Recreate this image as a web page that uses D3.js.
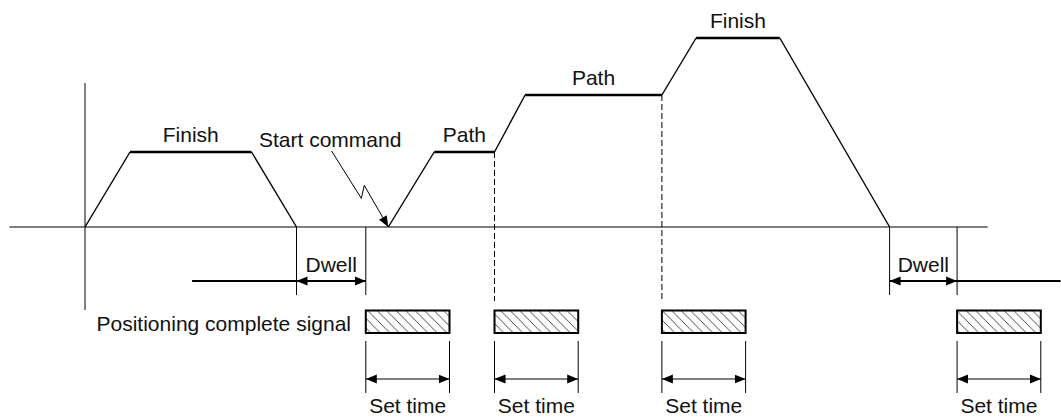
<!DOCTYPE html>
<html>
<head>
<meta charset="utf-8">
<script src="https://cdn.jsdelivr.net/npm/d3@7"></script>
<style>
  body { margin: 0; background: #fff; }
  text { font-family: "Liberation Sans", Arial, sans-serif; font-size: 21px; fill: #111; }
</style>
</head>
<body>
<svg id="chart"></svg>
<script>
// time (x) and speed (y) values
const profile1 = [[0, 0], [5, 3.75], [18.5, 3.75], [23.5, 0]];
const profile2 = [[33.7, 0], [38.8, 3.75], [45.5, 3.75], [48.9, 6.6], [64.1, 6.6],
                  [67.9, 9.45], [77.2, 9.45], [89.4, 0]];
const flatLabels = ["Finish", "Path", "Path", "Finish"];
const dwells = [[23.5, 31.2], [89.4, 96.9]];
const signalLine = [[11.9, 23.5], [96.9, 108.4]];
const signalStarts = [31.2, 45.5, 64.1, 96.9];
const setTime = 9.3;
const pathSwitches = [45.5, 64.1];
const startCommand = [[27.4, 3.8], [30.7, 1.43], [31.03, 2.08], [33.7, 0]];
const timeAxis = [-8.4, 100.3];
const speedAxis = [7.2, -4.15];

const width = 1061, height = 420;
const d3 = window.d3;
const svg = d3.select("#chart").attr("width", width).attr("height", height);

const x = d3.scaleLinear().domain([0, 100]).range([85, 985]);
const y = d3.scaleLinear().domain([0, 10]).range([227, 27]);

// rows below the time axis
const dwellY = 281, dwellTop = 227, dwellBottom = 295;
const boxTop = 310.5, boxH = 22.5;
const setTop = 341, setBottom = 393, setArrowY = 379, setLabelY = 413;
const dashBottom = 301;

const defs = svg.append("defs");
defs.append("marker")
  .attr("id", "arrow")
  .attr("viewBox", "0 0 11 10")
  .attr("refX", 11).attr("refY", 5)
  .attr("markerWidth", 11).attr("markerHeight", 10)
  .attr("markerUnits", "userSpaceOnUse")
  .attr("orient", "auto-start-reverse")
  .append("path").attr("d", "M0,0.5 L11,5 L0,9.5 Z").attr("fill", "#000");

defs.append("pattern")
  .attr("id", "hatch")
  .attr("patternUnits", "userSpaceOnUse")
  .attr("width", 9.5).attr("height", 9.5)
  .append("path")
  .attr("d", "M-1,8.5 L1,10.5 M0,0 L9.5,9.5 M8.5,-1 L10.5,1")
  .attr("stroke", "#333").attr("stroke-width", 0.9);

const g = svg.append("g");

// axes
g.append("line")
  .attr("x1", x(timeAxis[0])).attr("x2", x(timeAxis[1]))
  .attr("y1", y(0)).attr("y2", y(0))
  .attr("stroke", "#000").attr("stroke-width", 1);
g.append("line")
  .attr("x1", x(0)).attr("x2", x(0))
  .attr("y1", y(speedAxis[0])).attr("y2", y(speedAxis[1]))
  .attr("stroke", "#000").attr("stroke-width", 1);

// speed profiles: flats drawn heavier than the slopes
function drawProfile(pts) {
  for (let i = 0; i < pts.length - 1; i++) {
    const a = pts[i], b = pts[i + 1];
    const flat = a[1] === b[1];
    g.append("line")
      .attr("x1", x(a[0])).attr("y1", y(a[1]))
      .attr("x2", x(b[0])).attr("y2", y(b[1]))
      .attr("stroke", "#000")
      .attr("stroke-width", flat ? 2.4 : 1.4);
  }
}
drawProfile(profile1);
drawProfile(profile2);

// labels over each constant-speed section
const flats = [];
[profile1, profile2].forEach(pts => {
  for (let i = 0; i < pts.length - 1; i++) {
    if (pts[i][1] === pts[i + 1][1] && pts[i][1] > 0)
      flats.push([(pts[i][0] + pts[i + 1][0]) / 2, pts[i][1]]);
  }
});
g.selectAll(".flat-label")
  .data(flats)
  .enter()
  .append("text")
  .attr("class", "flat-label")
  .attr("x", d => x(d[0]))
  .attr("y", d => y(d[1]) - 10)
  .attr("text-anchor", "middle")
  .text((d, i) => flatLabels[i]);

// path switch points
g.selectAll(".switch")
  .data(pathSwitches)
  .enter()
  .append("line")
  .attr("x1", d => x(d)).attr("x2", d => x(d))
  .attr("y1", d => y(profile2.find(p => p[0] === d)[1]))
  .attr("y2", dashBottom)
  .attr("stroke", "#000").attr("stroke-width", 1)
  .attr("stroke-dasharray", "6,3");

// start command
g.append("path")
  .datum(startCommand)
  .attr("fill", "none")
  .attr("stroke", "#000").attr("stroke-width", 1)
  .attr("marker-end", "url(#arrow)")
  .attr("d", d3.line().x(d => x(d[0])).y(d => y(d[1])));
g.append("text")
  .attr("x", 259).attr("y", 147)
  .text("Start command");

// dwell times
dwells.forEach(([a, b]) => {
  [a, b].forEach(t => {
    g.append("line")
      .attr("x1", x(t)).attr("x2", x(t))
      .attr("y1", dwellTop).attr("y2", dwellBottom)
      .attr("stroke", "#000").attr("stroke-width", 1);
  });
  g.append("line")
    .attr("x1", x(a)).attr("x2", x(b))
    .attr("y1", dwellY).attr("y2", dwellY)
    .attr("stroke", "#000").attr("stroke-width", 2)
    .attr("marker-start", "url(#arrow)")
    .attr("marker-end", "url(#arrow)");
  g.append("text")
    .attr("x", (x(a) + x(b)) / 2).attr("y", dwellY - 9)
    .attr("text-anchor", "middle")
    .text("Dwell");
});
signalLine.forEach(([a, b]) => {
  g.append("line")
    .attr("x1", x(a)).attr("x2", x(b))
    .attr("y1", dwellY).attr("y2", dwellY)
    .attr("stroke", "#000").attr("stroke-width", 2);
});

// positioning complete signal
g.append("text")
  .attr("x", 351).attr("y", boxTop + 20)
  .attr("text-anchor", "end")
  .text("Positioning complete signal");

g.selectAll(".signal")
  .data(signalStarts)
  .enter()
  .append("rect")
  .attr("class", "signal")
  .attr("x", d => x(d)).attr("y", boxTop)
  .attr("width", d => x(d + setTime) - x(d)).attr("height", boxH)
  .attr("fill", "url(#hatch)")
  .attr("stroke", "#000").attr("stroke-width", 2);

// set time
signalStarts.forEach(s => {
  [s, s + setTime].forEach(t => {
    g.append("line")
      .attr("x1", x(t)).attr("x2", x(t))
      .attr("y1", setTop).attr("y2", setBottom)
      .attr("stroke", "#000").attr("stroke-width", 1);
  });
  g.append("line")
    .attr("x1", x(s)).attr("x2", x(s + setTime))
    .attr("y1", setArrowY).attr("y2", setArrowY)
    .attr("stroke", "#000").attr("stroke-width", 1.2)
    .attr("marker-start", "url(#arrow)")
    .attr("marker-end", "url(#arrow)");
  g.append("text")
    .attr("x", x(s + setTime / 2)).attr("y", setLabelY)
    .attr("text-anchor", "middle")
    .text("Set time");
});
</script>
</body>
</html>
